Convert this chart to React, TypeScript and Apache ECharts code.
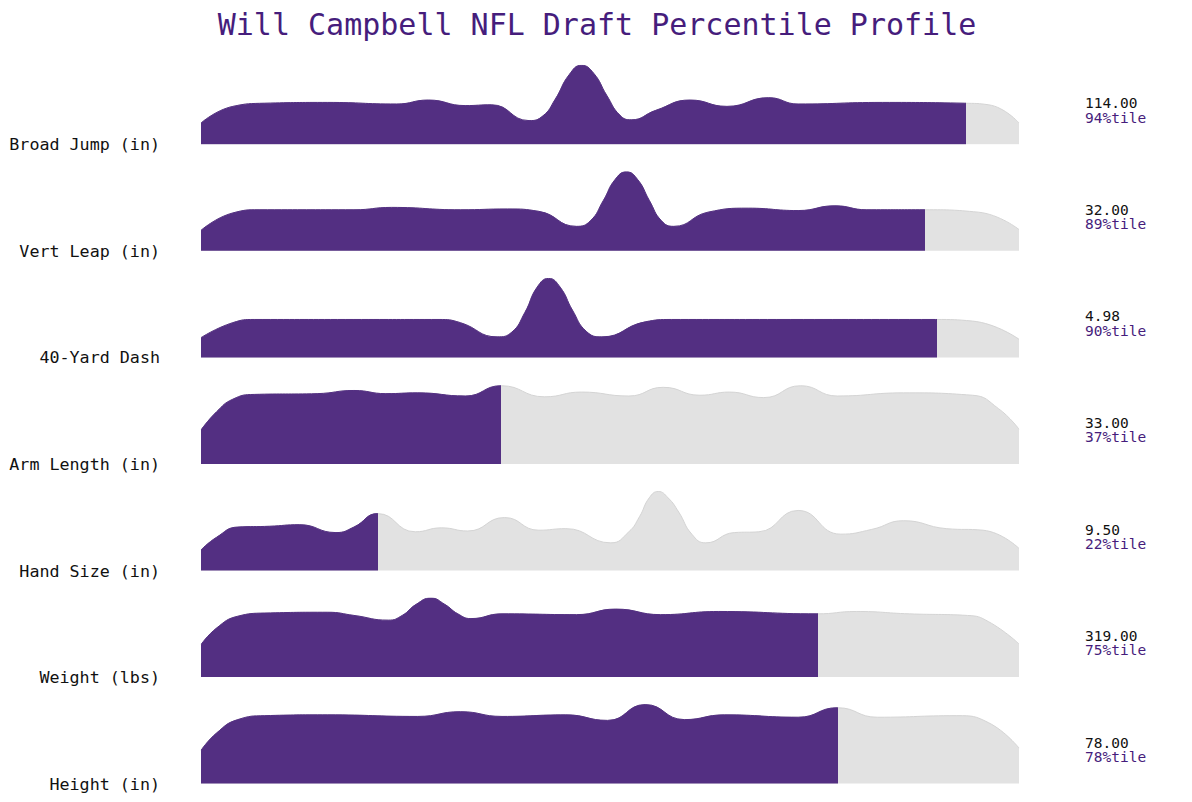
import React, { useEffect, useRef } from "react";
import * as echarts from "echarts";

const TITLE = "Will Campbell NFL Draft Percentile Profile";
const metrics = [
  "Broad Jump (in)",
  "Vert Leap (in)",
  "40-Yard Dash",
  "Arm Length (in)",
  "Hand Size (in)",
  "Weight (lbs)",
  "Height (in)",
];
const values = [114, 32, 4.98, 33, 9.5, 319, 78];
const percentiles = [93.5, 88.5, 90.0, 36.7, 21.6, 75.4, 77.9];

// [percentile, relative density]
const broadJump = [
  [0, 0.27], [3.9, 0.48], [7.8, 0.52], [15.5, 0.53], [23.9, 0.51], [27.8, 0.56], [32.3, 0.49],
  [35.5, 0.5], [40.1, 0.3], [41.8, 0.36], [43.3, 0.57], [45, 0.88], [46.5, 1.0], [48, 0.9],
  [49.6, 0.62], [51.2, 0.37], [52.6, 0.31], [55.6, 0.43], [59.8, 0.56], [64.3, 0.48], [69.4, 0.59],
  [73, 0.51], [83.3, 0.53], [93.3, 0.52], [96.3, 0.5], [100, 0.27],
];
const vertLeap = [
  [0, 0.26], [3.9, 0.48], [7.1, 0.52], [18.7, 0.52], [23.3, 0.55], [31.7, 0.52], [37.5, 0.53],
  [41.3, 0.5], [45.9, 0.31], [47.6, 0.38], [49.2, 0.64], [50.6, 0.9], [52, 1.0], [53.4, 0.9],
  [54.8, 0.64], [56.3, 0.38], [57.8, 0.31], [62, 0.49], [66.9, 0.54], [73, 0.51], [77.5, 0.57],
  [81.4, 0.52], [88.5, 0.52], [95, 0.49], [100, 0.27],
];
const fortyYard = [
  [0, 0.25], [3.9, 0.44], [6.5, 0.48], [18.7, 0.48], [29.1, 0.48], [31.7, 0.44], [36.2, 0.26],
  [38, 0.32], [39.6, 0.57], [41.1, 0.89], [42.5, 1.0], [43.9, 0.89], [45.4, 0.6], [47.1, 0.33],
  [49, 0.26], [54.3, 0.45], [57.5, 0.48], [70.4, 0.48], [89.8, 0.48], [94.3, 0.46], [100, 0.23],
];
const armLength = [
  [0, 0.43], [1.9, 0.66], [3.9, 0.82], [6.5, 0.88], [14.2, 0.89], [18.7, 0.93], [22.6, 0.89],
  [26.5, 0.9], [32.3, 0.86], [36.7, 0.99], [42, 0.85], [46.5, 0.91], [52.3, 0.86], [56.5, 0.97],
  [61, 0.87], [64.6, 0.91], [68.8, 0.84], [73.3, 0.99], [77.8, 0.86], [85.9, 0.9], [94.3, 0.87],
  [97.5, 0.7], [100, 0.44],
];
const handSize = [
  [0, 0.26], [1.9, 0.42], [4.5, 0.55], [8.4, 0.56], [12, 0.58], [16.5, 0.48], [18.7, 0.55],
  [21.6, 0.72], [26.2, 0.49], [29.4, 0.54], [32.6, 0.5], [37.1, 0.67], [41.3, 0.51], [44.6, 0.53],
  [50.1, 0.35], [52.3, 0.49], [53.6, 0.68], [54.8, 0.92], [55.9, 1.0], [57.1, 0.92], [58.4, 0.74],
  [60, 0.46], [61.7, 0.35], [65.2, 0.48], [68.2, 0.49], [73, 0.76], [78.2, 0.46], [82, 0.52],
  [85.9, 0.63], [91.1, 0.53], [95.6, 0.51], [100, 0.28],
];
const weight = [
  [0, 0.41], [1.9, 0.62], [4.5, 0.77], [7.8, 0.81], [15.5, 0.82], [18.7, 0.78], [22.9, 0.72],
  [24.6, 0.78], [26.3, 0.92], [28.1, 1.0], [29.8, 0.92], [31.4, 0.8], [33, 0.74], [36.8, 0.8],
  [45.9, 0.79], [50.7, 0.86], [56.2, 0.79], [63.3, 0.83], [75.3, 0.8], [80.1, 0.83], [86.6, 0.8],
  [93.7, 0.78], [96.3, 0.7], [100, 0.42],
];
const height = [
  [0, 0.42], [1.9, 0.64], [4.5, 0.81], [7.8, 0.86], [15.5, 0.87], [26.5, 0.85], [31.7, 0.91],
  [36.8, 0.85], [44.6, 0.87], [49.7, 0.8], [54.3, 1.0], [59.1, 0.81], [64, 0.87], [73, 0.84],
  [77.8, 0.96], [82.7, 0.84], [92.4, 0.86], [96.3, 0.77], [100, 0.45],
];
const densities = [broadJump, vertLeap, fortyYard, armLength, handSize, weight, height];

const PURPLE = "#532F82";
const TITLE_COLOR = "#461D7C";
const GREY_FILL = "#E2E2E2";
const GREY_LINE = "#D4D4D4";
const FONT = "'DejaVu Sans Mono', 'Liberation Mono', monospace";

const LEFT = 201;
const WIDTH = 818;
const BASE0 = 144.3;
const STEP = 106.55;
const ROW_H = 79;
const base = (i: number) => BASE0 + i * STEP;

export default function App() {
  const ref = useRef<HTMLDivElement>(null);
  useEffect(() => {
    if (!ref.current) return;
    const chart = echarts.init(ref.current, undefined, { renderer: "svg" });
    const grid = densities.map((_, i) => ({
      left: LEFT,
      width: WIDTH,
      top: base(i) - ROW_H,
      height: ROW_H,
    }));
    const xAxis = densities.map((_, i) => ({
      gridIndex: i,
      type: "value",
      min: 0,
      max: 100,
      show: false,
    }));
    const yAxis = densities.map((_, i) => ({
      gridIndex: i,
      type: "value",
      min: 0,
      max: 1,
      show: false,
    }));
    const series: any[] = [];
    densities.forEach((d, i) => {
      series.push({
        type: "line",
        xAxisIndex: i,
        yAxisIndex: i,
        data: d,
        smooth: 0.5,
        symbol: "none",
        silent: true,
        z: 1,
        lineStyle: { color: GREY_LINE, width: 1 },
        areaStyle: { color: GREY_FILL, opacity: 1 },
      });
      series.push({
        type: "line",
        xAxisIndex: i,
        yAxisIndex: i,
        data: d,
        smooth: 0.5,
        symbol: "none",
        silent: true,
        z: 2,
        lineStyle: { width: 1 },
        areaStyle: { opacity: 1 },
      });
    });
    const visualMap = percentiles.map((p, i) => ({
      type: "piecewise",
      show: false,
      dimension: 0,
      seriesIndex: 2 * i + 1,
      pieces: [{ gte: 0, lte: p, color: PURPLE }],
      outOfRange: { color: "rgba(0,0,0,0)" },
    }));
    const txt = (text: string, x: number, y: number, size: number, fill: string, align: string) => ({
      type: "text",
      silent: true,
      style: {
        text,
        x,
        y,
        fontSize: size,
        fontFamily: FONT,
        fill,
        align,
        textAlign: align,
        verticalAlign: "middle",
        textVerticalAlign: "middle",
      },
    });
    const graphic: any[] = [txt(TITLE, 597, 24, 30, TITLE_COLOR, "center")];
    metrics.forEach((m, i) => {
      graphic.push(txt(m, 160, base(i), 16.7, "#111111", "right"));
      graphic.push(txt(values[i].toFixed(2), 1085, base(i) - 41, 14.5, "#111111", "left"));
      graphic.push(txt(Math.round(percentiles[i]) + "%tile", 1085, base(i) - 26.8, 14.5, TITLE_COLOR, "left"));
    });
    chart.setOption({
      animation: false,
      backgroundColor: "#ffffff",
      grid,
      xAxis,
      yAxis,
      visualMap,
      series,
      graphic,
    });
    return () => chart.dispose();
  }, []);
  return (
    <div
      ref={ref}
      style={{ position: "fixed", left: 0, top: 0, width: 1192, height: 802 }}
    />
  );
}
